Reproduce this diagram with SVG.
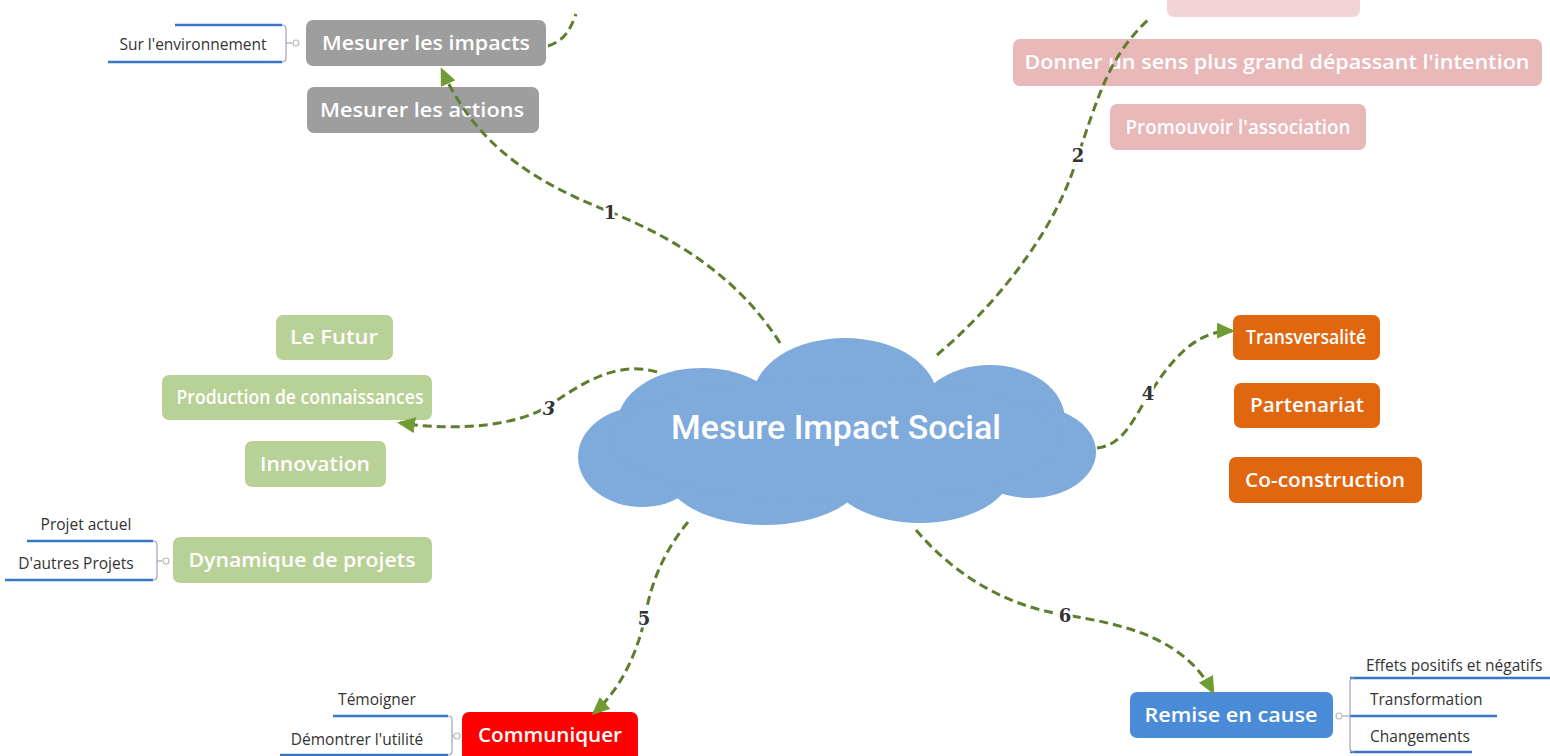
<svg xmlns="http://www.w3.org/2000/svg" width="1550" height="756" viewBox="0 0 1550 756">
<defs>
<style>
.n{font-family:"Open Sans","Liberation Sans",sans-serif;font-size:20px;font-weight:600;fill:#fff;text-anchor:middle}
.c{font-family:"Open Sans","Liberation Sans",sans-serif;font-size:15.5px;fill:#333}
.cm{text-anchor:middle}
.ul{stroke:#3a76c6;stroke-width:2.5;fill:none}
.br{stroke:#9aa6b8;stroke-width:1.2;fill:none}
.kn{stroke:#bbb;stroke-width:1.2;fill:#fff}
.con{fill:none;stroke:#5e7d2f;stroke-width:3;stroke-dasharray:9 5}
.lab{font-family:"DejaVu Serif","Liberation Serif",serif;font-size:18px;font-weight:bold;fill:#333;text-anchor:middle;paint-order:stroke;stroke:#fff;stroke-width:5px}
.gray{fill:#9e9e9e}.pink{fill:#e9b8b8}.green{fill:#b8d196}.orange{fill:#e0670f}
</style>
<marker id="ah" markerWidth="18" markerHeight="16" refX="15" refY="8" orient="auto" markerUnits="userSpaceOnUse">
<path d="M0,0 L18,8 L0,16 z" fill="#6f9d33"/>
</marker>
</defs>
<rect width="1550" height="756" fill="#fff"/>

<g id="center">
<g fill="#7eaadc">
<ellipse cx="845" cy="398" rx="92" ry="60"/>
<ellipse cx="702" cy="425" rx="85" ry="57"/>
<ellipse cx="990" cy="420" rx="75" ry="55"/>
<ellipse cx="642" cy="457" rx="64" ry="50"/>
<ellipse cx="1030" cy="452" rx="66" ry="46"/>
<ellipse cx="765" cy="470" rx="102" ry="55"/>
<ellipse cx="920" cy="470" rx="92" ry="53"/>
<ellipse cx="836" cy="440" rx="225" ry="62"/>
</g>
<text x="836" y="439" font-family="Roboto,'Liberation Sans',sans-serif" font-size="33" font-weight="500" fill="#fff" text-anchor="middle" textLength="330" lengthAdjust="spacingAndGlyphs">Mesure Impact Social</text>
</g>

<g id="n-mesurer-impacts">
<rect class="gray" x="306" y="20" width="240" height="46" rx="7"/>
<text class="n" x="426" y="50" textLength="208" lengthAdjust="spacingAndGlyphs">Mesurer les impacts</text>
</g>
<g id="c-sur-environnement">
<path class="ul" d="M175,25 H282"/>
<path class="ul" d="M108,62 H282"/>
<path class="br" d="M282,25 Q286,25 286,29 V58 Q286,62 282,62"/>
<path class="br" d="M286,43 H292"/>
<circle class="kn" cx="296" cy="43" r="3"/>
<text class="c cm" x="193" y="50">Sur l'environnement</text>
</g>
<g id="n-mesurer-actions">
<rect class="gray" x="307" y="87" width="232" height="46" rx="7"/>
<text class="n" x="422" y="117" textLength="204" lengthAdjust="spacingAndGlyphs">Mesurer les actions</text>
</g>

<g id="n-pink-top">
<rect class="pink" x="1167" y="-30" width="193" height="47" rx="7" opacity="0.6"/>
</g>
<g id="n-donner-sens">
<rect class="pink" x="1013" y="39" width="529" height="47" rx="7"/>
<text class="n" x="1277" y="69" textLength="505" lengthAdjust="spacingAndGlyphs">Donner un sens plus grand dépassant l'intention</text>
</g>
<g id="n-promouvoir">
<rect class="pink" x="1110" y="104" width="256" height="46" rx="7"/>
<text class="n" x="1238" y="134" textLength="225" lengthAdjust="spacingAndGlyphs">Promouvoir l'association</text>
</g>

<g id="n-futur">
<rect class="green" x="276" y="315" width="117" height="45" rx="7"/>
<text class="n" x="334" y="344" textLength="88" lengthAdjust="spacingAndGlyphs">Le Futur</text>
</g>
<g id="n-production">
<rect class="green" x="162" y="375" width="270" height="45" rx="7"/>
<text class="n" x="300" y="404" textLength="247" lengthAdjust="spacingAndGlyphs">Production de connaissances</text>
</g>
<g id="n-innovation">
<rect class="green" x="245" y="441" width="141" height="46" rx="7"/>
<text class="n" x="315" y="471" textLength="110" lengthAdjust="spacingAndGlyphs">Innovation</text>
</g>
<g id="n-dynamique">
<rect class="green" x="173" y="537" width="259" height="46" rx="7"/>
<text class="n" x="302" y="567" textLength="227" lengthAdjust="spacingAndGlyphs">Dynamique de projets</text>
</g>
<g id="c-dynamique">
<path class="ul" d="M27,541 H153"/>
<path class="ul" d="M5,580 H153"/>
<path class="br" d="M153,541 Q157,541 157,545 V576 Q157,580 153,580"/>
<path class="br" d="M157,561 H162"/>
<circle class="kn" cx="166" cy="561" r="3"/>
<text class="c cm" x="86" y="530">Projet actuel</text>
<text class="c cm" x="76" y="569">D'autres Projets</text>
</g>

<g id="n-transversalite">
<rect class="orange" x="1233" y="315" width="147" height="45" rx="7"/>
<text class="n" x="1306" y="344" textLength="120" lengthAdjust="spacingAndGlyphs">Transversalité</text>
</g>
<g id="n-partenariat">
<rect class="orange" x="1234" y="383" width="146" height="45" rx="7"/>
<text class="n" x="1307" y="412" textLength="114" lengthAdjust="spacingAndGlyphs">Partenariat</text>
</g>
<g id="n-coconstruction">
<rect class="orange" x="1229" y="457" width="193" height="46" rx="7"/>
<text class="n" x="1325" y="487" textLength="160" lengthAdjust="spacingAndGlyphs">Co-construction</text>
</g>

<g id="n-communiquer">
<rect x="462" y="712" width="176" height="50" rx="7" fill="#ff0000"/>
<text class="n" x="550" y="742" textLength="144" lengthAdjust="spacingAndGlyphs">Communiquer</text>
</g>
<g id="c-communiquer">
<path class="ul" d="M333,716 H448"/>
<path class="ul" d="M280,755 H448"/>
<path class="br" d="M448,716 Q452,716 452,720 V751 Q452,755 448,755"/>
<path class="br" d="M452,736 H454"/>
<circle class="kn" cx="457" cy="736" r="3"/>
<text class="c cm" x="377" y="705">Témoigner</text>
<text class="c cm" x="357" y="745">Démontrer l'utilité</text>
</g>

<g id="n-remise">
<rect x="1130" y="692" width="203" height="46" rx="7" fill="#4a8bd7"/>
<text class="n" x="1231" y="722" textLength="173" lengthAdjust="spacingAndGlyphs">Remise en cause</text>
</g>
<g id="c-remise">
<path class="ul" d="M1350,678 H1550"/>
<path class="ul" d="M1350,716 H1497"/>
<path class="ul" d="M1350,752 H1472"/>
<path class="br" d="M1354,678 Q1350,678 1350,682 V748 Q1350,752 1354,752"/>
<path class="br" d="M1343,716 H1350"/>
<circle class="kn" cx="1339" cy="716" r="3"/>
<text class="c" x="1366" y="671">Effets positifs et négatifs</text>
<text class="c" x="1370" y="705">Transformation</text>
<text class="c" x="1370" y="742">Changements</text>
</g>

<g id="connectors">
<path class="con" d="M780,343 C740,280 680,240 610,212 S478,150 442,70" marker-end="url(#ah)"/>
<path class="con" d="M548,46 C565,40 570,30 576,14"/>
<path class="con" d="M937,355 C990,310 1050,240 1075,165 S1110,55 1150,18"/>
<path class="con" d="M657,372 C615,360 580,385 550,405 S460,432 400,423" marker-end="url(#ah)"/>
<path class="con" d="M1097,448 C1125,445 1135,415 1150,393 S1190,330 1232,331" marker-end="url(#ah)"/>
<path class="con" d="M688,522 C665,550 652,580 646,612 S625,685 594,713" marker-end="url(#ah)"/>
<path class="con" d="M916,530 C950,570 1000,605 1065,615 S1185,640 1213,692" marker-end="url(#ah)"/>
<text class="lab" x="610" y="219">1</text>
<text class="lab" x="1078" y="162">2</text>
<text class="lab" x="549" y="415" font-style="italic">3</text>
<text class="lab" x="1148" y="400">4</text>
<text class="lab" x="644" y="625">5</text>
<text class="lab" x="1065" y="622">6</text>
</g>
</svg>
